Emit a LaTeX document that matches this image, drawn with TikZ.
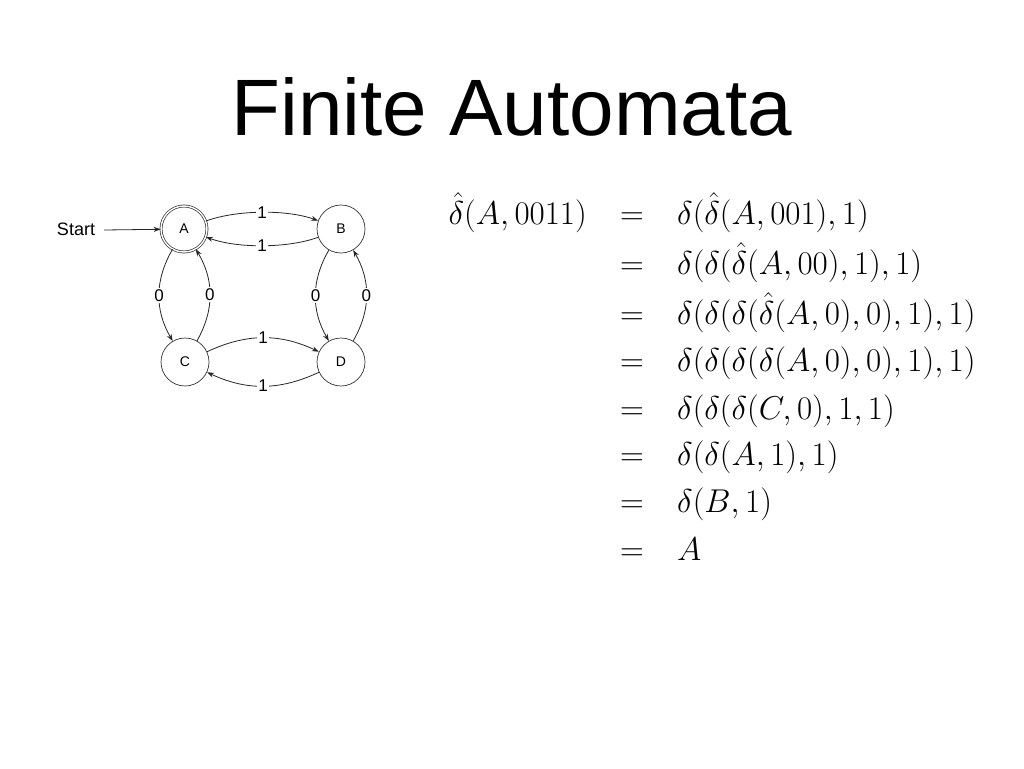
\RequirePackage{fix-cm}
\documentclass[tikz,border=0pt]{standalone}
\usepackage[no-math]{fontspec}
\setmainfont{Liberation Sans}
\usetikzlibrary{arrows.meta}
\begin{document}
\begin{tikzpicture}[x=1pt,y=-1pt,
  state/.style={circle,draw=black!80,line width=0.7pt,minimum size=48pt,inner sep=0pt,font=\fontsize{14}{16}\selectfont},
  edge/.style={draw=black!85,line width=0.8pt,-{Stealth[length=7pt,width=5pt]}},
  lab/.style={fill=white,inner sep=1.5pt,font=\fontsize{17}{19}\selectfont},
  mth/.style={inner sep=0pt,font=\fontsize{33}{39}\selectfont}]
\useasboundingbox (0,0) rectangle (1024,768);
\node[anchor=base,inner sep=0pt,font=\fontsize{80}{90}\selectfont] (title) at (512,135) {Finite Automata};
% automaton
\node[state,double,double distance=1.4pt,minimum size=46pt] (A) at (184,229) {A};
\node[state] (B) at (341,229) {B};
\node[state] (C) at (185,362) {C};
\node[state] (D) at (341,362) {D};
\node[font=\fontsize{18}{20}\selectfont,inner sep=0pt] (start) at (76,229) {Start};
\path (start.east) ++(9,1) coordinate (s0);
\draw[edge] (s0) -- (A);
\draw[edge] (A) to[bend left=20,looseness=0.75] node[lab] (l1) {1} (B);
\draw[edge] (B) to[bend left=20,looseness=0.75] node[lab] (l2) {1} (A);
\draw[edge] (C) to[bend left=25] node[lab] (l3) {1} (D);
\draw[edge] (D) to[bend left=25] node[lab] (l4) {1} (C);
\draw[edge] (A) to[bend right=30] node[lab] (l5) {0} (C);
\draw[edge] (C) to[bend right=30] node[lab] (l6) {0} (A);
\draw[edge] (B) to[bend right=30] node[lab] (l7) {0} (D);
\draw[edge] (D) to[bend right=30] node[lab] (l8) {0} (B);
% derivation
\node[mth,anchor=base east] (lhs) at (587,224) {$\hat{\delta}(A,0011)$};
\foreach \y/\i in {224/1,274/2,324.5/3,371.5/4,419/5,465/6,512/7,560/8}
  \node[mth,anchor=base] (eq\i) at (632,\y) {$=$};
\node[mth,anchor=base west] (r1) at (677,224) {$\delta(\hat{\delta}(A,001),1)$};
\node[mth,anchor=base west] (r2) at (677,274) {$\delta(\delta(\hat{\delta}(A,00),1),1)$};
\node[mth,anchor=base west] (r3) at (677,324.5) {$\delta(\delta(\delta(\hat{\delta}(A,0),0),1),1)$};
\node[mth,anchor=base west] (r4) at (677,371.5) {$\delta(\delta(\delta(\delta(A,0),0),1),1)$};
\node[mth,anchor=base west] (r5) at (677,419) {$\delta(\delta(\delta(C,0),1,1)$};
\node[mth,anchor=base west] (r6) at (677,465) {$\delta(\delta(A,1),1)$};
\node[mth,anchor=base west] (r7) at (677,512) {$\delta(B,1)$};
\node[mth,anchor=base west] (r8) at (677,560) {$A$};
\end{tikzpicture}
\end{document}
